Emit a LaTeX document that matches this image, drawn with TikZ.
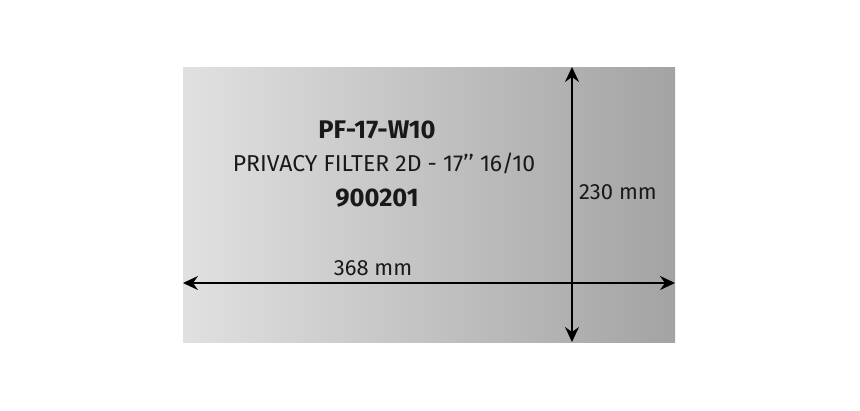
\documentclass[tikz,border=0pt]{standalone}
\usepackage{fontspec}
\setmainfont{Fira Sans}
\usetikzlibrary{arrows.meta,positioning}

\begin{document}
\begin{tikzpicture}[x=1pt,y=-1pt,
  dimline/.style={line width=1.6pt,{Stealth[length=15pt,width=14pt,inset=5pt]}-{Stealth[length=15pt,width=14pt,inset=5pt]}},
  titletext/.style={font=\bfseries\fontsize{25.5}{30}\selectfont,text=black!90},
  plaintext/.style={font=\fontsize{22}{26}\selectfont,text=black!90}]

\useasboundingbox (0,0) rectangle (860,410);

% filter sheet
\shade[left color=gray!24,right color=gray!72] (183,67) rectangle (675,342);

% dimension ends
\coordinate (wl) at (183,283);
\coordinate (wr) at (675,283);
\coordinate (ht) at (572,67);
\coordinate (hb) at (572,342);

\draw[dimline] (wl) -- (wr);
\draw[dimline] (ht) -- (hb);

\node[titletext] (model) at (377,130) {PF-17-W10};
\node[plaintext,font=\fontsize{23}{27}\selectfont] (desc) at (384,163) {PRIVACY FILTER 2D - 17{'}{'} 16/10};
\node[titletext] (code) at (377,198) {900201};

\node[plaintext] (width) at (373,268) {368 mm};
\node[plaintext] (height) at (618,192) {230 mm};

\end{tikzpicture}
\end{document}
